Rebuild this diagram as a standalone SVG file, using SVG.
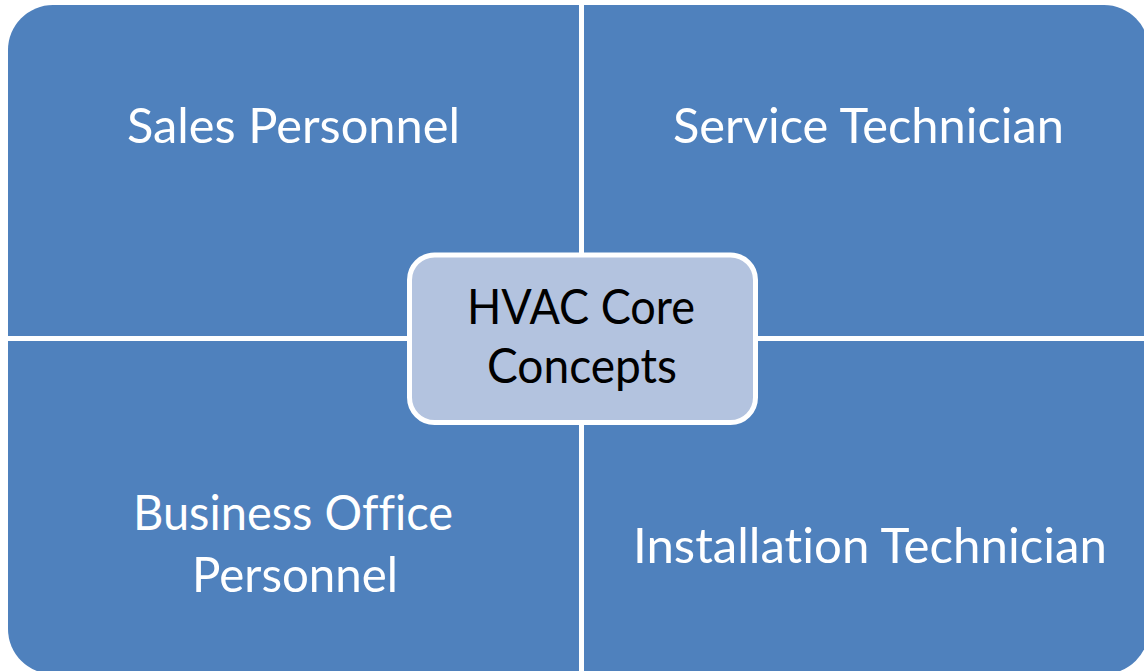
<svg xmlns="http://www.w3.org/2000/svg" width="1144" height="671" viewBox="0 0 1144 671">
<style>
.q{fill:#4F81BD;}
.lbl{font-family:Lato,"Open Sans","Liberation Sans",sans-serif;font-size:49px;fill:#FFFFFF;text-anchor:middle;font-variant-ligatures:none;font-feature-settings:"liga" 0;}
.clbl{font-family:Lato,"Open Sans","Liberation Sans",sans-serif;font-size:49px;fill:#000000;text-anchor:middle;font-variant-ligatures:none;font-feature-settings:"liga" 0;}
.center{fill:#B3C3DF;stroke:#FFFFFF;stroke-width:5;}
</style>
<rect width="1144" height="671" fill="#FFFFFF"/>
<g id="connectors"></g>
<g id="sales">
<path class="q" d="M8,50 A45,45 0 0 1 53,5 H579 V336 H8 Z"/>
<text class="lbl" x="293.5" y="143" textLength="333" lengthAdjust="spacingAndGlyphs">Sales Personnel</text>
</g>
<g id="service">
<path class="q" d="M584,5 H1104 A45,45 0 0 1 1149,50 V336 H584 Z"/>
<text class="lbl" x="868.5" y="143" textLength="391" lengthAdjust="spacingAndGlyphs">Service Technician</text>
</g>
<g id="business">
<path class="q" d="M8,341 H579 V674 H53 A45,45 0 0 1 8,629 Z"/>
<text class="lbl" x="293" y="530" textLength="320" lengthAdjust="spacingAndGlyphs">Business Office</text>
<text class="lbl" x="295" y="592" textLength="206" lengthAdjust="spacingAndGlyphs">Personnel</text>
</g>
<g id="installation">
<path class="q" d="M584,341 H1149 V629 A45,45 0 0 1 1104,674 H584 Z"/>
<text class="lbl" x="870" y="563" textLength="474" lengthAdjust="spacingAndGlyphs">Installation Technician</text>
</g>
<g id="core">
<rect class="center" x="409.5" y="255" width="346" height="167.5" rx="25" ry="25"/>
<text class="clbl" x="581" y="324" textLength="228" lengthAdjust="spacingAndGlyphs">HVAC Core</text>
<text class="clbl" x="582" y="383" textLength="190" lengthAdjust="spacingAndGlyphs">Concepts</text>
</g>
</svg>
